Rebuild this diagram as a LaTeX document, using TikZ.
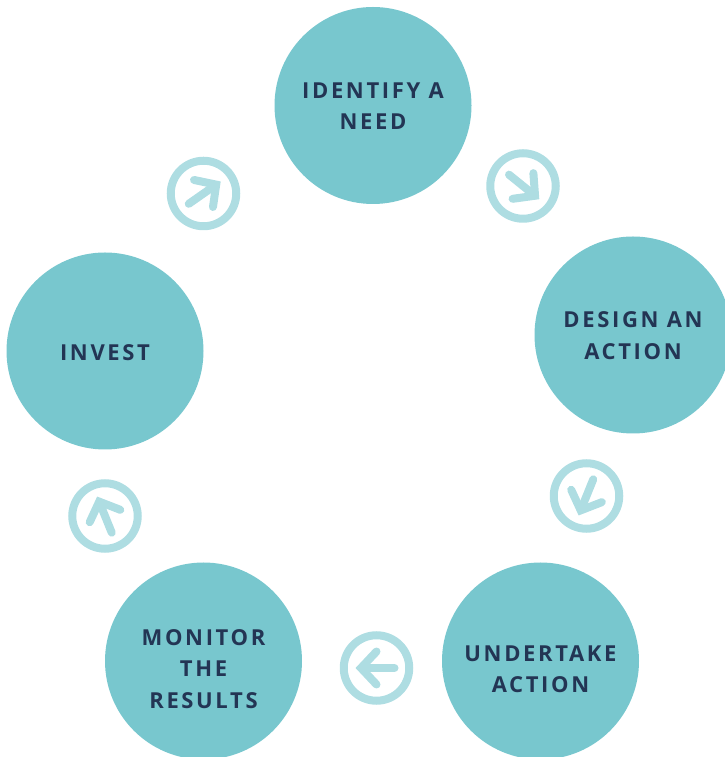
\documentclass[tikz,border=0pt]{standalone}
\usepackage{fontspec}
\setmainfont{Open Sans}[LetterSpace=12,BoldFont={* Bold}]
\definecolor{stagefill}{HTML}{78C7CE}
\definecolor{iconline}{HTML}{AEDDE2}
\definecolor{stagetext}{HTML}{233554}
\tikzset{
  stage/.style={circle,fill=stagefill,minimum size=197pt,inner sep=0pt},
  stagelabel/.style={text=stagetext,inner sep=0pt,align=center,
    font=\fontsize{22}{31.5}\selectfont\bfseries},
  ring/.style={circle,draw=iconline,line width=8pt,minimum size=65.5pt,inner sep=0pt},
  icon/.style={draw=iconline,line width=8pt,line cap=round}
}
\begin{document}
\begin{tikzpicture}[x=1pt,y=1pt]
    \useasboundingbox (0,0) rectangle (724,757);

    \node[stage] (identify) at (373,651.5) {};
    \node[stage] (design) at (633,422) {};
    \node[stage] (undertake) at (540.5,96) {};
    \node[stage] (monitor) at (203.5,96) {};
    \node[stage] (invest) at (105,406) {};

    \node[stagelabel,yshift=-0.5pt] (identifytext) at (identify) {IDENTIFY A\\NEED};
    \node[stagelabel,yshift=-0.5pt] (designtext) at (design) {DESIGN AN\\ACTION};
    \node[stagelabel,yshift=-8pt] (undertaketext) at (undertake) {UNDERTAKE\\ACTION};
    \node[stagelabel,yshift=-8pt] (monitortext) at (monitor) {MONITOR\\THE\\RESULTS};
    \node[stagelabel,yshift=-1.5pt] (investtext) at (invest) {INVEST};

    \foreach \name/\x/\y/\angle in {one/523/571/-39, two/586.5/261/-112, three/376.5/89/180, four/105/241/112, five/203.5/563.5/35}{
        \node[ring] (\name) at (\x,\y) {};
        \begin{scope}[shift={(\name.center)},rotate=\angle]
            \draw[icon] (-18,0) -- (13,0);
            \draw[icon,line join=miter] (0,16.5) -- (15.5,0) -- (0,-16.5);
        \end{scope}
    }
\end{tikzpicture}
\end{document}
